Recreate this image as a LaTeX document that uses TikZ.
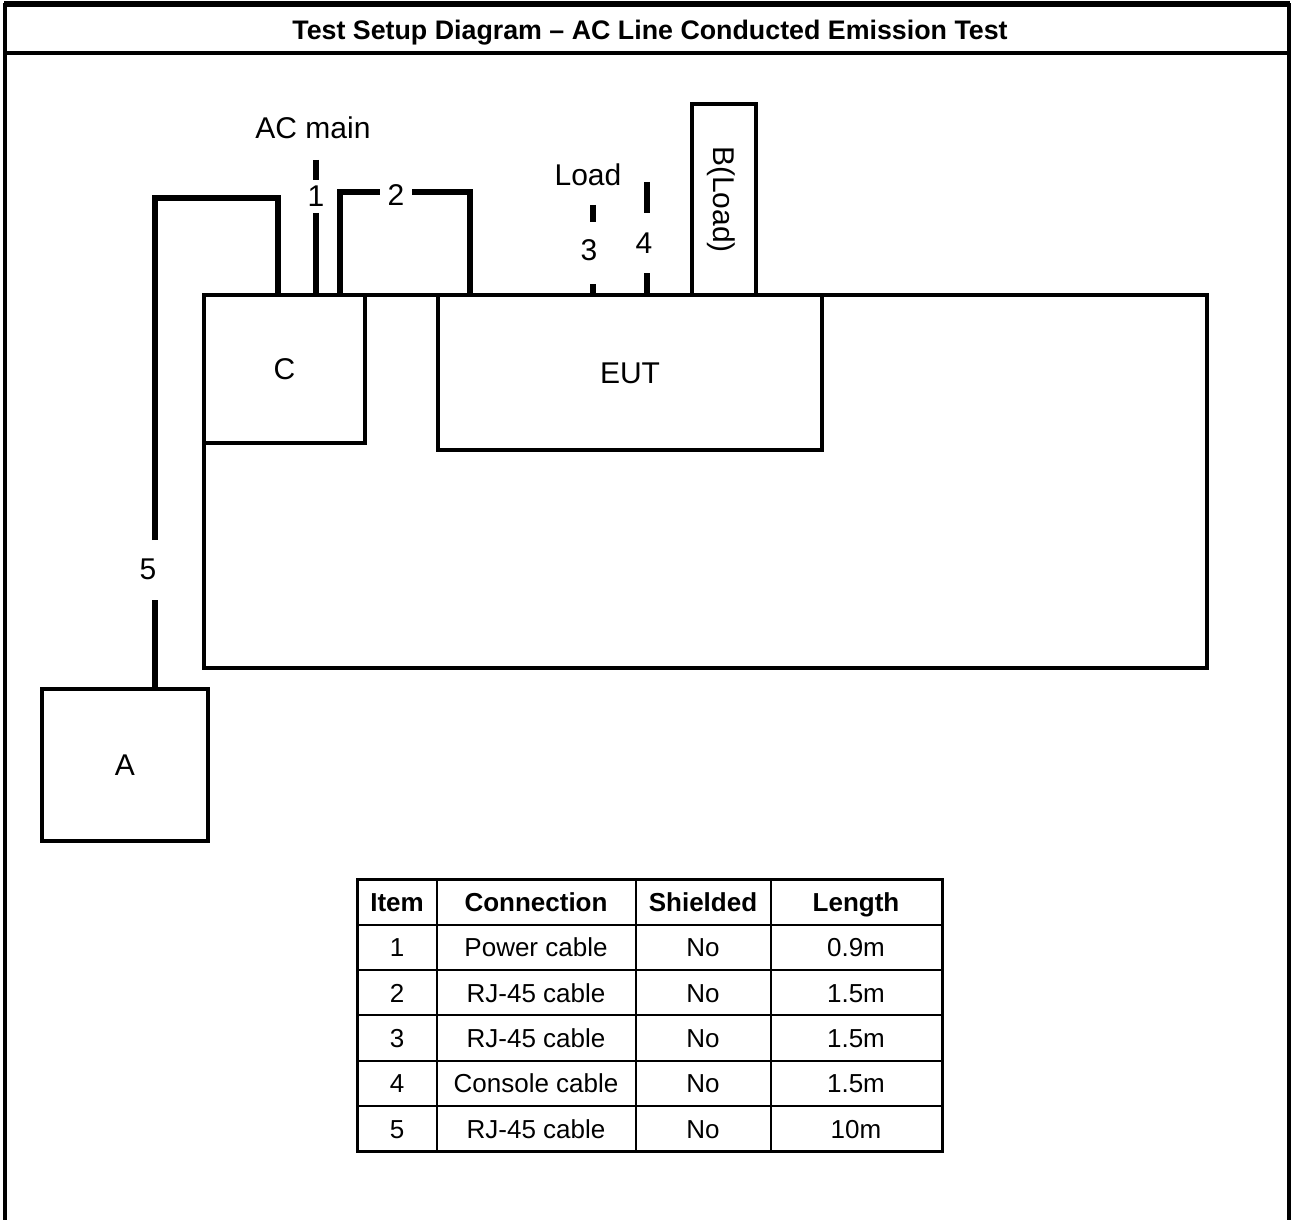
\documentclass[tikz,border=0pt]{standalone}
\usepackage{fontspec}
\setmainfont{Liberation Sans}
\usetikzlibrary{positioning}

\begin{document}
\begin{tikzpicture}[
    x=0.5pt, y=-0.5pt,
    box/.style={draw, line width=2pt, inner sep=0pt, outer sep=0pt, anchor=north west},
    cable/.style={line width=2.7pt},
    frame/.style={line width=1.6pt},
    lbl/.style={font=\fontsize{15}{18}\selectfont, inner sep=0pt,
      text height=10.7pt, text depth=0pt},
    cell/.style={font=\fontsize{13}{16}\selectfont, inner sep=0pt,
      text height=9.3pt, text depth=0pt},
    head/.style={cell, font=\bfseries\fontsize{13}{16}\selectfont},
  ]
  \useasboundingbox (0,0) rectangle (1292,1220);

  % Outer frame and title
  \draw[frame] (5,1220) -- (5,5) -- (1289,5) -- (1289,1220);
  \draw[line width=2.6pt] (4,4) -- (1290,4);
  \draw[frame] (5,53) -- (1289,53);
  \node[head, font=\bfseries\fontsize{13.4}{16}\selectfont, text height=9.6pt]
    (title) at (650,30) {Test Setup Diagram -- AC Line Conducted Emission Test};

  % Table and units
  \node[box, minimum width=501.5pt, minimum height=186.5pt] (bench) at (204,295) {};
  \node[box, minimum width=80.5pt, minimum height=74pt] (C) at (204,295) {};
  \node[lbl] at (C.center) {C};
  \node[box, minimum width=192pt, minimum height=77.5pt] (EUT) at (438,295) {};
  \node[lbl] at (EUT.center) {EUT};
  \node[box, minimum width=32pt, minimum height=95.5pt] (B) at (692,104) {};
  \node[lbl, rotate=-90] at (B.center) {B(Load)};
  \node[box, minimum width=83pt, minimum height=76pt] (A) at (42,689) {};
  \node[lbl] at (A.center) {A};

  % Cable 5 (A to C)
  \node[lbl] (n5) at (148,569) {5};
  \coordinate (p5a) at (155,540);
  \coordinate (p5b) at (155,600);
  \coordinate (k5) at (278,198);
  \draw[cable] (A.north -| p5b) -- (p5b);
  \draw[cable] (p5a) |- (k5) -- (k5 |- C.north);

  % Cable 1 (AC main)
  \node[lbl] (acmain) at (313,128) {AC main};
  \node[lbl] (n1) at (316,196) {1};
  \coordinate (p1a) at (316,160);
  \coordinate (p1b) at (316,180);
  \coordinate (p1c) at (316,213);
  \draw[cable] (p1a) -- (p1b);
  \draw[cable] (p1c) -- (p1c |- C.north);

  % Cable 2 (C to EUT)
  \node[lbl] (n2) at (396,195) {2};
  \coordinate (p2a) at (380,192);
  \coordinate (p2b) at (412,192);
  \draw[cable] (C.north -| 340,0) |- (p2a);
  \draw[cable] (p2b) -| (EUT.north -| 470,0);

  % Cables 3 and 4 (Load)
  \node[lbl] (load) at (588,175) {Load};
  \node[lbl] (n3) at (589,250) {3};
  \node[lbl] (n4) at (644,243) {4};
  \coordinate (p3a) at (593,205);
  \coordinate (p3b) at (593,222);
  \coordinate (p3c) at (593,284);
  \coordinate (p4a) at (647,182);
  \coordinate (p4b) at (647,213);
  \coordinate (p4c) at (647,273);
  \draw[cable] (p3a) -- (p3b);
  \draw[cable] (p3c) -- (p3c |- EUT.north);
  \draw[cable] (p4a) -- (p4b);
  \draw[cable] (p4c) -- (p4c |- EUT.north);

  % Cable table
  \foreach \y in {925,970,1015,1061,1106}
    \draw[line width=1pt] (357,\y) -- (942,\y);
  \foreach \x in {437,636,771}
    \draw[line width=1pt] (\x,879) -- (\x,1151);
  \draw[line width=1.5pt] (357,879) rectangle (942,1151);

  \node[head] (h1) at (397,902) {Item};
  \node[head] (h2) at (536,902) {Connection};
  \node[head] (h3) at (703,902) {Shielded};
  \node[head] (h4) at (856,902) {Length};
  \foreach \con/\len [count=\r] in {Power cable/0.9m, RJ-45 cable/1.5m,
      RJ-45 cable/1.5m, Console cable/1.5m, RJ-45 cable/10m} {
    \node[cell] (r\r c1) at (397,902+45.4*\r) {\r};
    \node[cell] (r\r c2) at (536,902+45.4*\r) {\con};
    \node[cell] (r\r c3) at (703,902+45.4*\r) {No};
    \node[cell] (r\r c4) at (856,902+45.4*\r) {\len};
  }
\end{tikzpicture}
\end{document}
